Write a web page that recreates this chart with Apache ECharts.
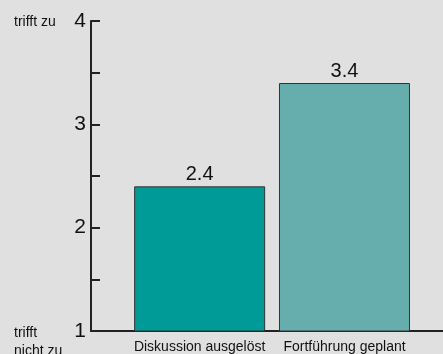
<!DOCTYPE html>
<html><head><meta charset="utf-8">
<script src="https://cdn.jsdelivr.net/npm/echarts@6/dist/echarts.min.js"></script>
<style>html,body{margin:0;padding:0;background:#e0e0e0}#c{width:443px;height:354px}</style>
</head><body><div id="c"></div>
<script>
var categories = ['Diskussion ausgelöst', 'Fortführung geplant'];
var values = [2.4, 3.4];
var barColors = ['#009b96', '#66aead'];
var yTickLabels = ['1', '2', '3', '4'];

var chart = echarts.init(document.getElementById('c'), null, {renderer: 'canvas'});
var font = 'Liberation Sans, Arial, sans-serif';
chart.setOption({
  backgroundColor: '#e0e0e0',
  animation: false,
  grid: {left: 91, right: 0, top: 21, bottom: 22, containLabel: false},
  xAxis: {
    type: 'value', min: 0.25, max: 2.68,
    splitLine: {show: false},
    axisLine: {show: true, onZero: false, lineStyle: {color: '#222', width: 2}},
    axisTick: {show: false},
    axisLabel: {
      customValues: [1, 2],
      formatter: function (v) { return categories[Math.round(v) - 1] || ''; },
      fontFamily: font, fontSize: 14, color: '#111', margin: 9
    }
  },
  yAxis: {
    type: 'value', min: 1, max: 4, interval: 0.5,
    splitLine: {show: false},
    axisLine: {show: true, lineStyle: {color: '#222', width: 2}},
    axisTick: {show: true, inside: true, length: 9, lineStyle: {color: '#222', width: 2}},
    axisLabel: {
      formatter: function (v) { return yTickLabels.indexOf(String(v)) >= 0 ? String(v) : ''; },
      fontFamily: font, fontSize: 21, color: '#111', margin: 5
    }
  },
  series: [{
    type: 'bar',
    barWidth: 131,
    data: values.map(function (v, i) {
      return {value: [i + 1, v], itemStyle: {color: barColors[i]}};
    }),
    itemStyle: {borderColor: '#333', borderWidth: 1},
    label: {
      show: true, position: 'top', distance: 2,
      formatter: function (p) { return p.value[1].toFixed(1); },
      fontFamily: font, fontSize: 20, color: '#111'
    }
  }],
  graphic: [
    {type: 'text', left: 14, top: 15, style: {text: 'trifft zu', font: '14px ' + font, fill: '#111'}},
    {type: 'text', left: 14, top: 324, style: {text: 'trifft\nnicht zu', font: '14px ' + font, fill: '#111', lineHeight: 18}}
  ]
});
</script></body></html>
